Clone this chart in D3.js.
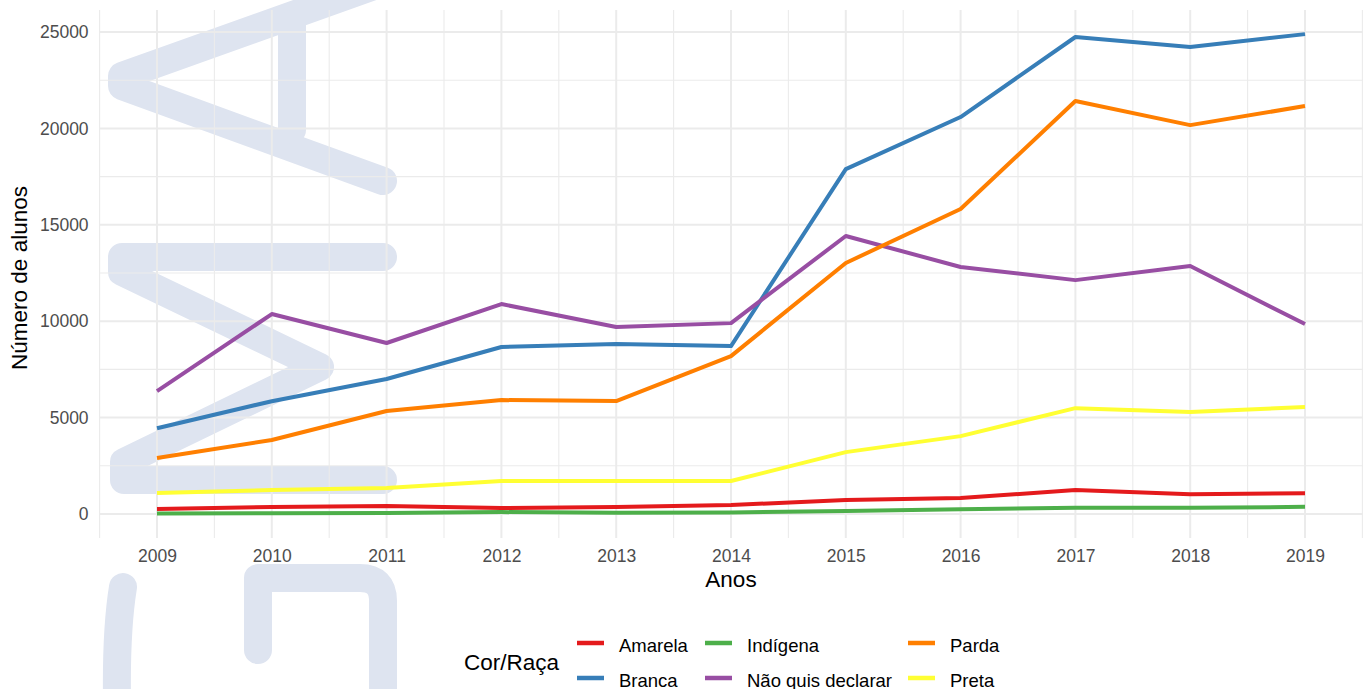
<!DOCTYPE html>
<html>
<head>
<meta charset="utf-8">
<script src="https://cdn.jsdelivr.net/npm/d3@7"></script>
<style>
  body { margin: 0; background: #fff; }
  svg text { font-family: "Liberation Sans", Arial, sans-serif; }
</style>
</head>
<body>
<div id="chart"></div>
<script>
// data
var anos = [2009, 2010, 2011, 2012, 2013, 2014, 2015, 2016, 2017, 2018, 2019];
var amarela = [260, 360, 410, 310, 360, 470, 720, 830, 1240, 1030, 1080];
var branca = [4450, 5850, 7000, 8660, 8820, 8710, 17890, 20590, 24740, 24220, 24890];
var indigena = [30, 40, 50, 100, 60, 80, 160, 250, 330, 320, 370];
var naoQuis = [6370, 10370, 8870, 10890, 9700, 9900, 14420, 12810, 12130, 12860, 9850];
var parda = [2900, 3840, 5340, 5910, 5860, 8190, 13020, 15820, 21420, 20170, 21160];
var preta = [1090, 1240, 1350, 1710, 1710, 1710, 3210, 4040, 5490, 5290, 5550];

var grupos = ['Amarela', 'Branca', 'Indígena', 'Não quis declarar', 'Parda', 'Preta'];
var cores = ['#E41A1C', '#377EB8', '#4DAF4A', '#984EA3', '#FF7F00', '#FFFF33'];
var valores = [amarela, branca, indigena, naoQuis, parda, preta];
var yTicks = [0, 5000, 10000, 15000, 20000, 25000];

var width = 1364, height = 689;
var margin = {left: 99.6, right: 1.6, top: 10, bottom: 151};

var svg = d3.select('#chart').append('svg')
  .attr('width', width)
  .attr('height', height);

// watermark in the background
var wm = svg.append('g')
  .attr('fill', 'none')
  .attr('stroke', '#dee4f0')
  .attr('stroke-width', 28)
  .attr('stroke-linecap', 'round')
  .attr('stroke-linejoin', 'round');
wm.append('path').attr('d', 'M402,-24 L122,76 L122,86 L383,181');
wm.append('path').attr('d', 'M292,24 L292,130');
wm.append('path').attr('d', 'M383,257 L122,257 L122,272 L320,367 L124,462 L124,480 L383,480');
wm.append('path').attr('d', 'M123,587 Q116,630 117,700');
wm.append('path').attr('d', 'M258,650 L258,578 L360,578 Q383,578 383,601 L383,700');

var x = d3.scaleLinear()
  .domain([2008.5, 2019.5])
  .range([margin.left, width - margin.right]);

var yMax = 24896, yExp = yMax * 0.05;
var y = d3.scaleLinear()
  .domain([-yExp, yMax + yExp])
  .range([height - margin.bottom, margin.top]);

var grid = svg.append('g').attr('stroke', '#ebebeb').attr('fill', 'none');

// minor grid
var xMinor = d3.range(2008.5, 2020, 1);
var yMinor = [2500, 7500, 12500, 17500, 22500];
grid.selectAll('.vminor').data(xMinor).enter().append('line')
  .attr('x1', function (d) { return x(d); })
  .attr('x2', function (d) { return x(d); })
  .attr('y1', y.range()[0]).attr('y2', y.range()[1])
  .attr('stroke-width', 1.1);
grid.selectAll('.hminor').data(yMinor).enter().append('line')
  .attr('x1', x.range()[0]).attr('x2', x.range()[1])
  .attr('y1', function (d) { return y(d); })
  .attr('y2', function (d) { return y(d); })
  .attr('stroke-width', 1.1);

// major grid
grid.selectAll('.vmajor').data(anos).enter().append('line')
  .attr('x1', function (d) { return x(d); })
  .attr('x2', function (d) { return x(d); })
  .attr('y1', y.range()[0]).attr('y2', y.range()[1])
  .attr('stroke-width', 2);
grid.selectAll('.hmajor').data(yTicks).enter().append('line')
  .attr('x1', x.range()[0]).attr('x2', x.range()[1])
  .attr('y1', function (d) { return y(d); })
  .attr('y2', function (d) { return y(d); })
  .attr('stroke-width', 2);

// axes (labels only)
var xAxis = svg.append('g')
  .attr('transform', 'translate(0,' + (height - margin.bottom) + ')')
  .call(d3.axisBottom(x).tickValues(anos).tickFormat(d3.format('d')).tickSize(0));
var yAxis = svg.append('g')
  .attr('transform', 'translate(' + margin.left + ',0)')
  .call(d3.axisLeft(y).tickValues(yTicks).tickFormat(d3.format('d')).tickSize(0).tickPadding(11));
[xAxis, yAxis].forEach(function (a) {
  a.select('.domain').remove();
  a.selectAll('text')
    .attr('fill', '#4d4d4d')
    .style('font-size', '17.5px')
    .style('font-family', '"Liberation Sans", Arial, sans-serif');
});
xAxis.selectAll('text').attr('dy', null).attr('y', 23.5);

// lines
var line = d3.line()
  .x(function (d, i) { return x(anos[i]); })
  .y(function (d) { return y(d); });

svg.append('g').selectAll('path').data(valores).enter().append('path')
  .attr('d', function (d) { return line(d); })
  .attr('fill', 'none')
  .attr('stroke', function (d, i) { return cores[i]; })
  .attr('stroke-width', 4)
  .attr('stroke-linejoin', 'round');

// axis titles
svg.append('text')
  .attr('x', x(2014)).attr('y', 587)
  .attr('text-anchor', 'middle')
  .style('font-size', '22.5px')
  .text('Anos');
svg.append('text')
  .attr('transform', 'translate(27,278) rotate(-90)')
  .attr('text-anchor', 'middle')
  .style('font-size', '22.5px')
  .text('Número de alunos');

// legend
var legend = svg.append('g');
legend.append('text')
  .attr('x', 464).attr('y', 670)
  .style('font-size', '22.5px')
  .text('Cor/Raça');

var colX = [577, 705, 908];
var rowY = [643, 678];
var items = legend.selectAll('.item').data(grupos).enter().append('g')
  .attr('transform', function (d, i) {
    var col = Math.floor(i / 2), row = i % 2;
    return 'translate(' + colX[col] + ',' + rowY[row] + ')';
  });
items.append('line')
  .attr('x1', 0).attr('x2', 27)
  .attr('stroke', function (d, i) { return cores[i]; })
  .attr('stroke-width', 4.5);
items.append('text')
  .attr('x', 42).attr('y', 8.5)
  .style('font-size', '18.5px')
  .text(function (d) { return d; });
</script>
</body>
</html>
